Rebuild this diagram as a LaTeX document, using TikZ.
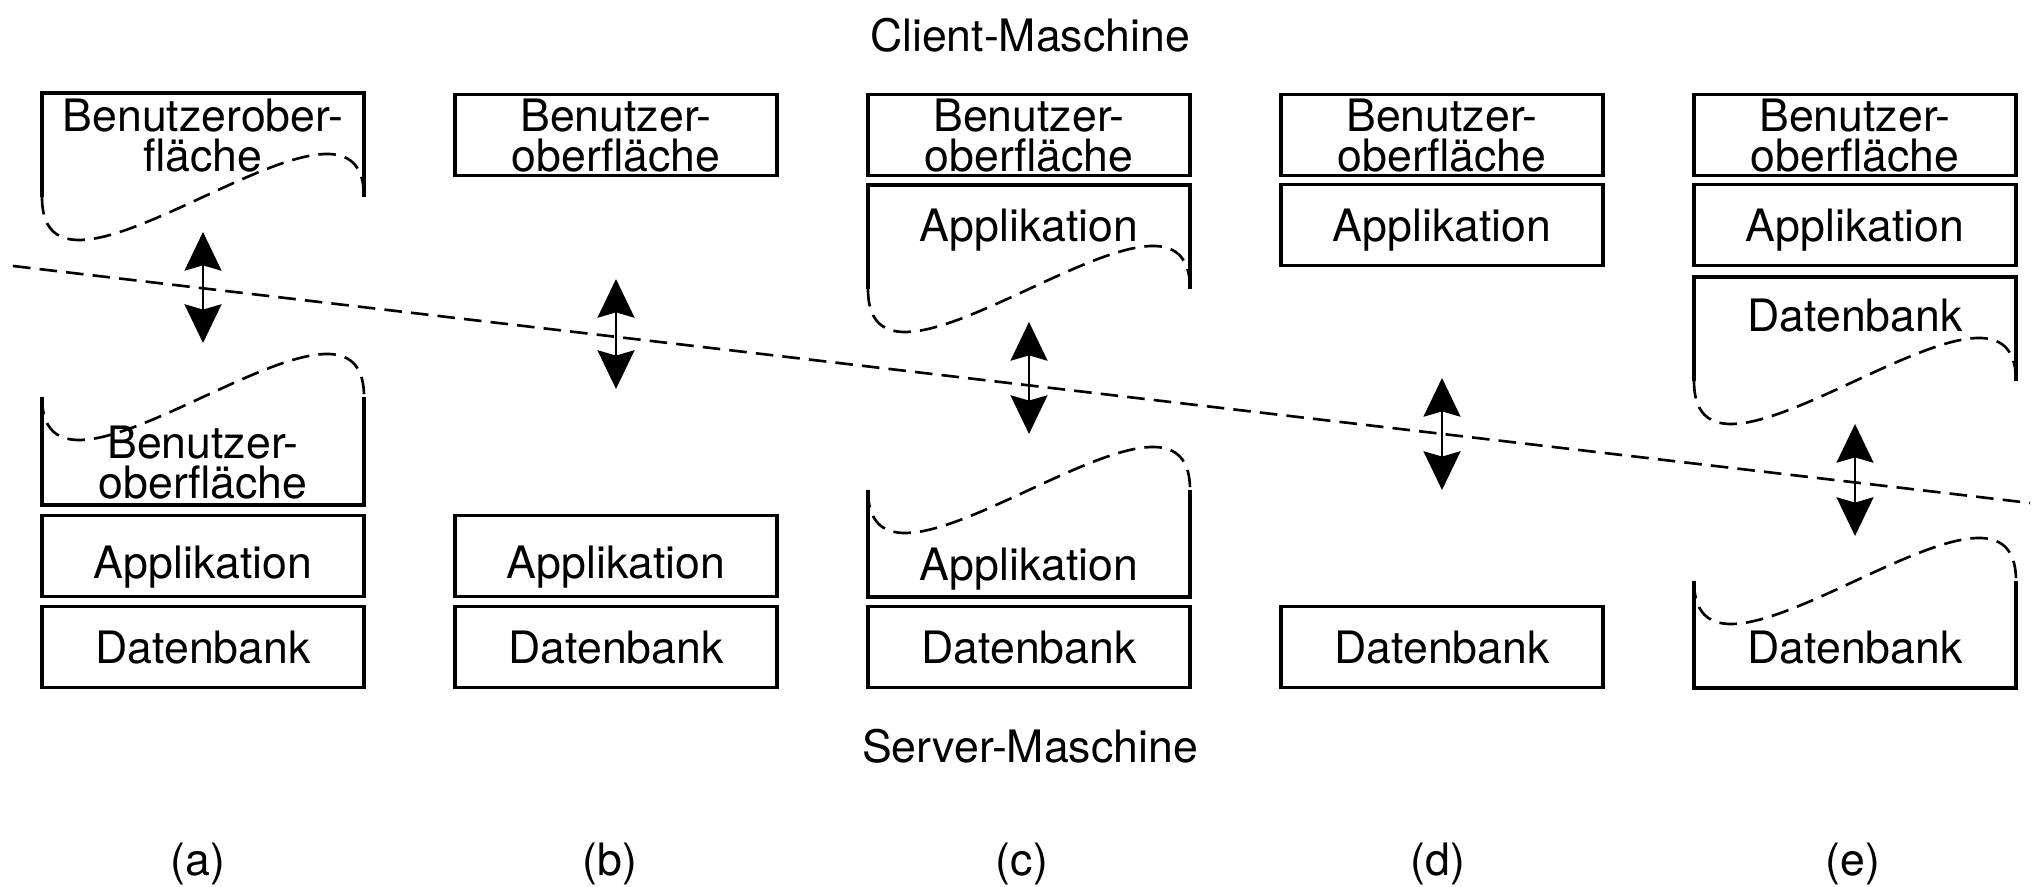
\documentclass[tikz,border=0pt]{standalone}
\usepackage{fontspec}
\setmainfont{TeX Gyre Heros}
\usetikzlibrary{arrows.meta}

\begin{document}
\begin{tikzpicture}[
    font=\fontsize{12.7}{11.4}\selectfont,
    layer/.style={draw, line width=0.9pt, minimum width=3.22cm, minimum height=0.81cm,
                  inner sep=0pt, align=center, text depth=0pt},
    lowlayer/.style={layer, text height=13pt},
    lbl/.style={inner sep=0pt, align=center, text depth=0pt},
    rim/.style={line width=0.9pt},
    cut/.style={line width=0.75pt, dash pattern=on 5pt off 2.6pt},
    link/.style={line width=0.75pt,
                 {Stealth[length=11pt,width=10.5pt,inset=1.5pt]}-{Stealth[length=11pt,width=10.5pt,inset=1.5pt]}}
]
    \useasboundingbox (0,0) rectangle (20.44,8.87);

    % Headings
    \node[anchor=base] (client) at (10.30, 8.35) {Client-Maschine};
    \node[anchor=base] (server) at (10.30, 1.24) {Server-Maschine};

    % Dividing line between client and server
    \coordinate (cut-l) at (0.13, 6.21);
    \coordinate (cut-r) at (20.30, 3.84);
    \draw[cut] (cut-l) -- (cut-r);

    % (a)
    \draw[rim] (0.42,6.90) -- (0.42,7.94) -- (3.64,7.94) -- (3.64,6.90);
    \draw[cut] (0.42,6.90) .. controls (0.42,5.41) and (3.64,8.39) .. (3.64,6.90);
    \node[lbl] (gui-a-top) at (2.03,7.52) {Benutzerober-\\fläche};
    \draw[rim] (0.42,4.90) -- (0.42,3.82) -- (3.64,3.82) -- (3.64,4.90);
    \draw[cut] (0.42,4.90) .. controls (0.42,3.41) and (3.64,6.39) .. (3.64,4.90);
    \node[lbl] (gui-a-bot) at (2.03,4.25) {Benutzer-\\oberfläche};
    \node[lowlayer] (app-a) at (2.03,3.31) {Applikation};
    \node[layer] (db-a) at (2.03,2.40) {Datenbank};
    \coordinate (up-a) at (2.03,6.55);
    \coordinate (down-a) at (2.03,5.44);
    \draw[link] (up-a) -- (down-a);

    % (b)
    \node[layer] (gui-b) at (6.16,7.52) {Benutzer-\\oberfläche};
    \node[lowlayer] (app-b) at (6.16,3.31) {Applikation};
    \node[layer] (db-b) at (6.16,2.40) {Datenbank};
    \coordinate (up-b) at (6.16,6.08);
    \coordinate (down-b) at (6.16,4.98);
    \draw[link] (up-b) -- (down-b);

    % (c)
    \node[layer] (gui-c) at (10.29,7.52) {Benutzer-\\oberfläche};
    \draw[rim] (8.68,5.98) -- (8.68,7.02) -- (11.90,7.02) -- (11.90,5.98);
    \draw[cut] (8.68,5.98) .. controls (8.68,4.49) and (11.90,7.47) .. (11.90,5.98);
    \node[lbl] (app-c-top) at (10.29,6.62) {Applikation};
    \draw[rim] (8.68,3.97) -- (8.68,2.90) -- (11.90,2.90) -- (11.90,3.97);
    \draw[cut] (8.68,3.97) .. controls (8.68,2.48) and (11.90,5.46) .. (11.90,3.97);
    \node[lbl] (app-c-bot) at (10.29,3.23) {Applikation};
    \node[layer] (db-c) at (10.29,2.40) {Datenbank};
    \coordinate (up-c) at (10.29,5.65);
    \coordinate (down-c) at (10.29,4.53);
    \draw[link] (up-c) -- (down-c);

    % (d)
    \node[layer] (gui-d) at (14.42,7.52) {Benutzer-\\oberfläche};
    \node[layer] (app-d) at (14.42,6.62) {Applikation};
    \node[layer] (db-d) at (14.42,2.40) {Datenbank};
    \coordinate (up-d) at (14.42,5.09);
    \coordinate (down-d) at (14.42,3.97);
    \draw[link] (up-d) -- (down-d);

    % (e)
    \node[layer] (gui-e) at (18.55,7.52) {Benutzer-\\oberfläche};
    \node[layer] (app-e) at (18.55,6.62) {Applikation};
    \draw[rim] (16.94,5.06) -- (16.94,6.10) -- (20.16,6.10) -- (20.16,5.06);
    \draw[cut] (16.94,5.06) .. controls (16.94,3.57) and (20.16,6.55) .. (20.16,5.06);
    \node[lbl] (db-e-top) at (18.55,5.72) {Datenbank};
    \draw[rim] (16.94,3.06) -- (16.94,1.99) -- (20.16,1.99) -- (20.16,3.06);
    \draw[cut] (16.94,3.06) .. controls (16.94,1.57) and (20.16,4.55) .. (20.16,3.06);
    \node[lbl] (db-e-bot) at (18.55,2.40) {Datenbank};
    \coordinate (up-e) at (18.55,4.63);
    \coordinate (down-e) at (18.55,3.51);
    \draw[link] (up-e) -- (down-e);

    % Sub-figure labels
    \node[anchor=base] (cap-a) at (1.98,0.11) {(a)};
    \node[anchor=base] (cap-b) at (6.10,0.11) {(b)};
    \node[anchor=base] (cap-c) at (10.22,0.11) {(c)};
    \node[anchor=base] (cap-d) at (14.38,0.11) {(d)};
    \node[anchor=base] (cap-e) at (18.53,0.11) {(e)};
\end{tikzpicture}
\end{document}
